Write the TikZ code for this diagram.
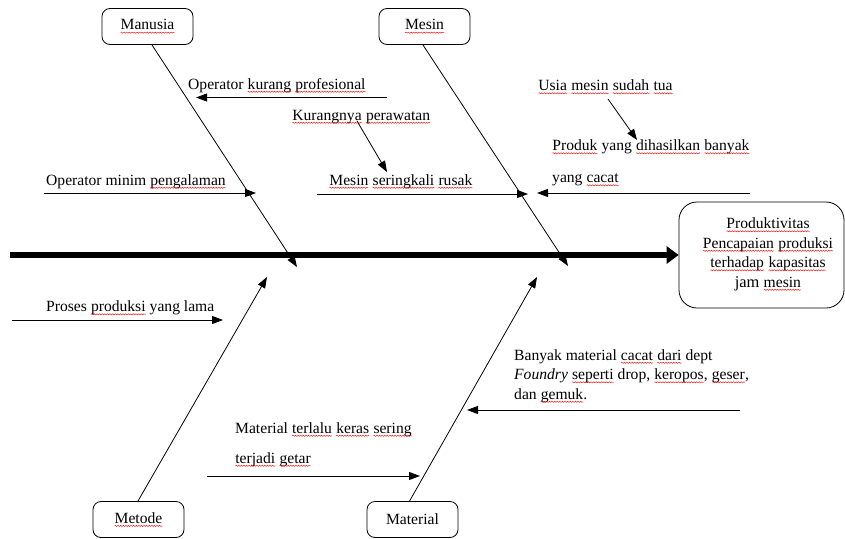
\documentclass[tikz,border=0pt]{standalone}
\usepackage{fontspec}
\setmainfont{Liberation Serif}
\usetikzlibrary{arrows.meta,decorations.pathmorphing}
\newcommand\spx[1]{\tikz[baseline=(sw.base), sharp corners, line width=0.4pt]{\node[inner sep=0pt, outer sep=0pt, minimum width=0pt, minimum height=0pt, anchor=base, draw=none, shape=rectangle, sharp corners] (sw) at (0,0) {#1};
  \draw[red, line width=0.4pt, sharp corners, decorate, decoration={snake, amplitude=0.6pt, segment length=2.6pt}]
    ([yshift=-2.8pt]sw.base west) -- ([yshift=-2.8pt]sw.base east);}}
\begin{document}
\begin{tikzpicture}[x=1pt,y=-1pt,
  every node/.style={font=\fontsize{15.6}{18}\selectfont},
  box/.style={draw, rounded corners=8pt, minimum width=91pt, minimum height=36pt, inner sep=0pt, line width=0.8pt},
  lbl/.style={anchor=base west, inner sep=0pt},
  arr/.style={line width=0.8pt, -{Triangle[length=11pt,width=8pt]}}]
\useasboundingbox (0,0) rectangle (845,538);

% category boxes
\node[box] (manusia) at (147.5,26.5) {\spx{Manusia}};
\node[box] (mesin) at (424.5,26.5) {\spx{Mesin}};
\node[box] (metode) at (138.5,519.5) {\spx{Metode}};
\node[box] (material) at (412.5,519.5) {Material};

% effect box
\node[draw, rounded corners=18pt, minimum width=165pt, minimum height=106pt, line width=0.8pt] (effect) at (761.5,255) {};
\node[align=center, inner sep=0pt, anchor=base, font=\fontsize{16.4}{19.5}\selectfont] (effecttxt) at (768,287)
  {\spx{Produktivitas}\\ \spx{Pencapaian} \spx{produksi}\\ \spx{terhadap} \spx{kapasitas}\\ jam \spx{mesin}};

% spine
\coordinate (spineStart) at (10,255);
\draw[line width=6pt, -{Triangle[length=12pt,width=17pt]}] (spineStart) -- (effect.west);

% bones
\coordinate (manA) at (152,45);   \coordinate (manB) at (297,267);
\coordinate (mesA) at (423,45);   \coordinate (mesB) at (568,266);
\coordinate (metA) at (138,501);  \coordinate (metB) at (267,277);
\coordinate (matA) at (409,502);  \coordinate (matB) at (537,277);
\draw[arr] (manA) -- (manB);
\draw[arr] (mesA) -- (mesB);
\draw[arr] (metA) -- (metB);
\draw[arr] (matA) -- (matB);

% cause arrows
\coordinate (okpA) at (387,97.5); \coordinate (okpB) at (196,97.5);
\coordinate (ompA) at (44,193);   \coordinate (ompB) at (256,193);
\coordinate (msrA) at (317,194);  \coordinate (msrB) at (528,194);
\coordinate (pydA) at (750,193);  \coordinate (pydB) at (537,193);
\coordinate (kpA) at (357,121);   \coordinate (kpB) at (387,172);
\coordinate (umtA) at (608,99);   \coordinate (umtB) at (637,140);
\coordinate (pplA) at (12,320);   \coordinate (pplB) at (223,320);
\coordinate (mtkA) at (207,476);  \coordinate (mtkB) at (420,476);
\coordinate (bmcA) at (740,410);  \coordinate (bmcB) at (467,410);
\draw[arr] (okpA) -- (okpB);
\draw[arr] (ompA) -- (ompB);
\draw[arr] (msrA) -- (msrB);
\draw[arr] (pydA) -- (pydB);
\draw[arr] (kpA) -- (kpB);
\draw[arr] (umtA) -- (umtB);
\draw[arr] (pplA) -- (pplB);
\draw[arr] (mtkA) -- (mtkB);
\draw[arr] (bmcA) -- (bmcB);

% cause labels
\node[lbl] (okp) at (188,89) {Operator \spx{kurang} \spx{profesional}};
\node[lbl] (kp) at (292,120) {\spx{Kurangnya} \spx{perawatan}};
\node[lbl] (omp) at (46,185) {Operator minim \spx{pengalaman}};
\node[lbl] (msr) at (329,185) {\spx{Mesin} \spx{seringkali} \spx{rusak}};
\node[lbl] (umt) at (538,90.5) {\spx{Usia} \spx{mesin} \spx{sudah} \spx{tua}};
\node[lbl] (pyd1) at (552,150.5) {\spx{Produk} yang \spx{dihasilkan} \spx{banyak}};
\node[lbl] (pyd2) at (552,182.5) {yang \spx{cacat}};
\node[lbl] (ppl) at (46,311.5) {Proses \spx{produksi} yang lama};
\node[lbl] (mtk1) at (235,433) {Material \spx{terlalu} \spx{keras} \spx{sering}};
\node[lbl] (mtk2) at (235,463) {\spx{terjadi} \spx{getar}};
\node[lbl] (bmc1) at (514,360) {Banyak material \spx{cacat} \spx{dari} dept};
\node[lbl] (bmc2) at (514,379.5) {\textit{Foundry} \spx{seperti} drop, \spx{keropos}, \spx{geser},};
\node[lbl] (bmc3) at (514,399) {dan \spx{gemuk}.};
\end{tikzpicture}
\end{document}
